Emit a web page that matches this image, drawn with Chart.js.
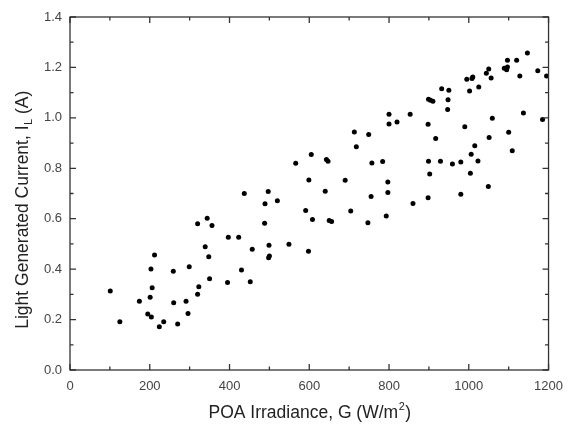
<!DOCTYPE html>
<html>
<head>
<meta charset="utf-8">
<script src="https://cdn.jsdelivr.net/npm/chart.js@4/dist/chart.umd.min.js"></script>
<style>
  html, body { margin: 0; padding: 0; background: #fff; }
  #wrap { width: 572px; height: 427px; position: relative; }
</style>
</head>
<body>
<div id="wrap"><canvas id="c" width="572" height="427"></canvas></div>
<script>
// POA irradiance G (W/m^2)
const irradiance = [
  101,125,174,195,204,201,206,203,212,224,235,259,260,270,291,296,299,320,323,320,
  344,356,339,348,350,397,423,395,430,437,452,457,489,497,520,488,499,500,498,549,
  591,598,599,566,605,640,643,647,690,713,718,749,757,784,755,797,797,800,800,820,
  853,898,899,904,910,932,950,948,947,917,899,929,959,980,902,898,980,990,995,1008,
  1010,1002,1025,1015,1006,1023,1004,1051,1059,1049,1044,1050,1056,1089,1095,1097,1097,1120,1128,1147,
  1100,1109,1137,1173,1195,1185,608,650,656,704,747,793,860
];
// Light generated current I_L (A)
const current = [
  0.313,0.191,0.273,0.222,0.210,0.289,0.326,0.401,0.456,0.172,0.191,0.392,0.267,0.182,0.273,0.224,0.409,0.300,0.330,0.580,
  0.602,0.573,0.489,0.449,0.362,0.526,0.526,0.347,0.397,0.700,0.350,0.479,0.659,0.708,0.671,0.582,0.495,0.452,0.445,0.499,
  0.633,0.471,0.754,0.820,0.855,0.709,0.835,0.828,0.753,0.944,0.885,0.934,0.821,0.827,0.688,0.746,0.704,1.014,0.976,0.984,
  1.014,0.975,1.074,1.070,1.066,1.115,1.109,1.072,1.033,0.918,0.828,0.828,0.817,0.825,0.777,0.683,0.697,0.965,1.153,1.156,
  1.162,1.107,1.122,0.889,0.856,0.829,0.780,0.922,0.998,0.728,1.177,1.194,1.158,1.197,1.191,1.202,1.228,1.228,1.166,1.257,
  0.943,0.870,1.019,1.187,1.166,0.993,0.597,0.593,0.589,0.631,0.584,0.611,0.660
];
const xTicks = [0, 200, 400, 600, 800, 1000, 1200];
const yTicks = [0.0, 0.2, 0.4, 0.6, 0.8, 1.0, 1.2, 1.4];
const xTitle = ['POA Irradiance, G (W/m', '2', ')'];
const yTitle = ['Light Generated Current, I', 'L', ' (A)'];

const points = irradiance.map((g, i) => ({ x: g, y: current[i] }));

const FONT = 'Arial, "Liberation Sans", sans-serif';

const frame = {
  id: 'frame',
  afterDatasetsDraw(chart) {
    const { ctx, chartArea: a, scales: { x, y } } = chart;
    ctx.save();
    ctx.strokeStyle = '#333';
    ctx.lineWidth = 1.3;
    ctx.strokeRect(a.left, a.top, a.right - a.left, a.bottom - a.top);
    ctx.beginPath();
    for (let v = 0; v <= 1200; v += 100) {
      const px = x.getPixelForValue(v);
      const L = (v % 200 === 0) ? 6 : 3.5;
      ctx.moveTo(px, a.bottom); ctx.lineTo(px, a.bottom - L);
      ctx.moveTo(px, a.top); ctx.lineTo(px, a.top + L);
    }
    for (let k = 0; k <= 14; k++) {
      const py = y.getPixelForValue(k / 10);
      const L = (k % 2 === 0) ? 6 : 3.5;
      ctx.moveTo(a.left, py); ctx.lineTo(a.left + L, py);
      ctx.moveTo(a.right, py); ctx.lineTo(a.right - L, py);
    }
    ctx.stroke();

    // axis titles with sub/superscript
    const fs = 17.5;
    const big = fs + 'px ' + FONT;
    const small = (fs * 0.62) + 'px ' + FONT;
    ctx.fillStyle = '#222';
    ctx.textBaseline = 'alphabetic';
    ctx.textAlign = 'left';

    // x title
    ctx.font = big; const w0 = ctx.measureText(xTitle[0]).width;
    ctx.font = small; const w1 = ctx.measureText(xTitle[1]).width;
    ctx.font = big; const w2 = ctx.measureText(xTitle[2]).width;
    let sx = (a.left + a.right) / 2 - (w0 + w1 + w2) / 2;
    const by = 418;
    ctx.font = big; ctx.fillText(xTitle[0], sx, by);
    ctx.font = small; ctx.fillText(xTitle[1], sx + w0 + 0.5, by - 8);
    ctx.font = big; ctx.fillText(xTitle[2], sx + w0 + w1 + 1, by);

    // y title
    ctx.save();
    ctx.translate(28, 210);
    ctx.rotate(-Math.PI / 2);
    ctx.font = big; const v0 = ctx.measureText(yTitle[0]).width;
    ctx.font = small; const v1 = ctx.measureText(yTitle[1]).width;
    ctx.font = big; const v2 = ctx.measureText(yTitle[2]).width;
    let s = -(v0 + v1 + v2) / 2;
    ctx.font = big; ctx.fillText(yTitle[0], s, 0);
    ctx.font = small; ctx.fillText(yTitle[1], s + v0 + 0.5, 4);
    ctx.font = big; ctx.fillText(yTitle[2], s + v0 + v1 + 0.5, 0);
    ctx.restore();
    ctx.restore();
  }
};

new Chart(document.getElementById('c'), {
  type: 'scatter',
  data: {
    datasets: [{
      data: points,
      backgroundColor: '#000',
      borderColor: '#000',
      pointRadius: 2.5,
      pointHoverRadius: 2.5,
      borderWidth: 0
    }]
  },
  options: {
    responsive: false,
    animation: false,
    events: [],
    layout: { padding: { left: 0, right: 22, top: 17, bottom: 0 } },
    plugins: { legend: { display: false }, tooltip: { enabled: false } },
    scales: {
      x: {
        type: 'linear', min: 0, max: 1200,
        afterFit(s) { s.height = 57; },
        afterBuildTicks(s) { s.ticks = xTicks.map(v => ({ value: v })); },
        grid: { display: false, drawTicks: false },
        border: { display: false },
        ticks: { color: '#444', font: { family: FONT, size: 13 }, padding: 9,
                 callback: v => String(v) }
      },
      y: {
        type: 'linear', min: 0, max: 1.4,
        afterFit(s) { s.width = 70; },
        afterBuildTicks(s) { s.ticks = yTicks.map(v => ({ value: v })); },
        grid: { display: false, drawTicks: false },
        border: { display: false },
        ticks: { color: '#444', font: { family: FONT, size: 13 }, padding: 8,
                 callback: v => Number(v).toFixed(1) }
      }
    }
  },
  plugins: [frame]
});
</script>
</body>
</html>
